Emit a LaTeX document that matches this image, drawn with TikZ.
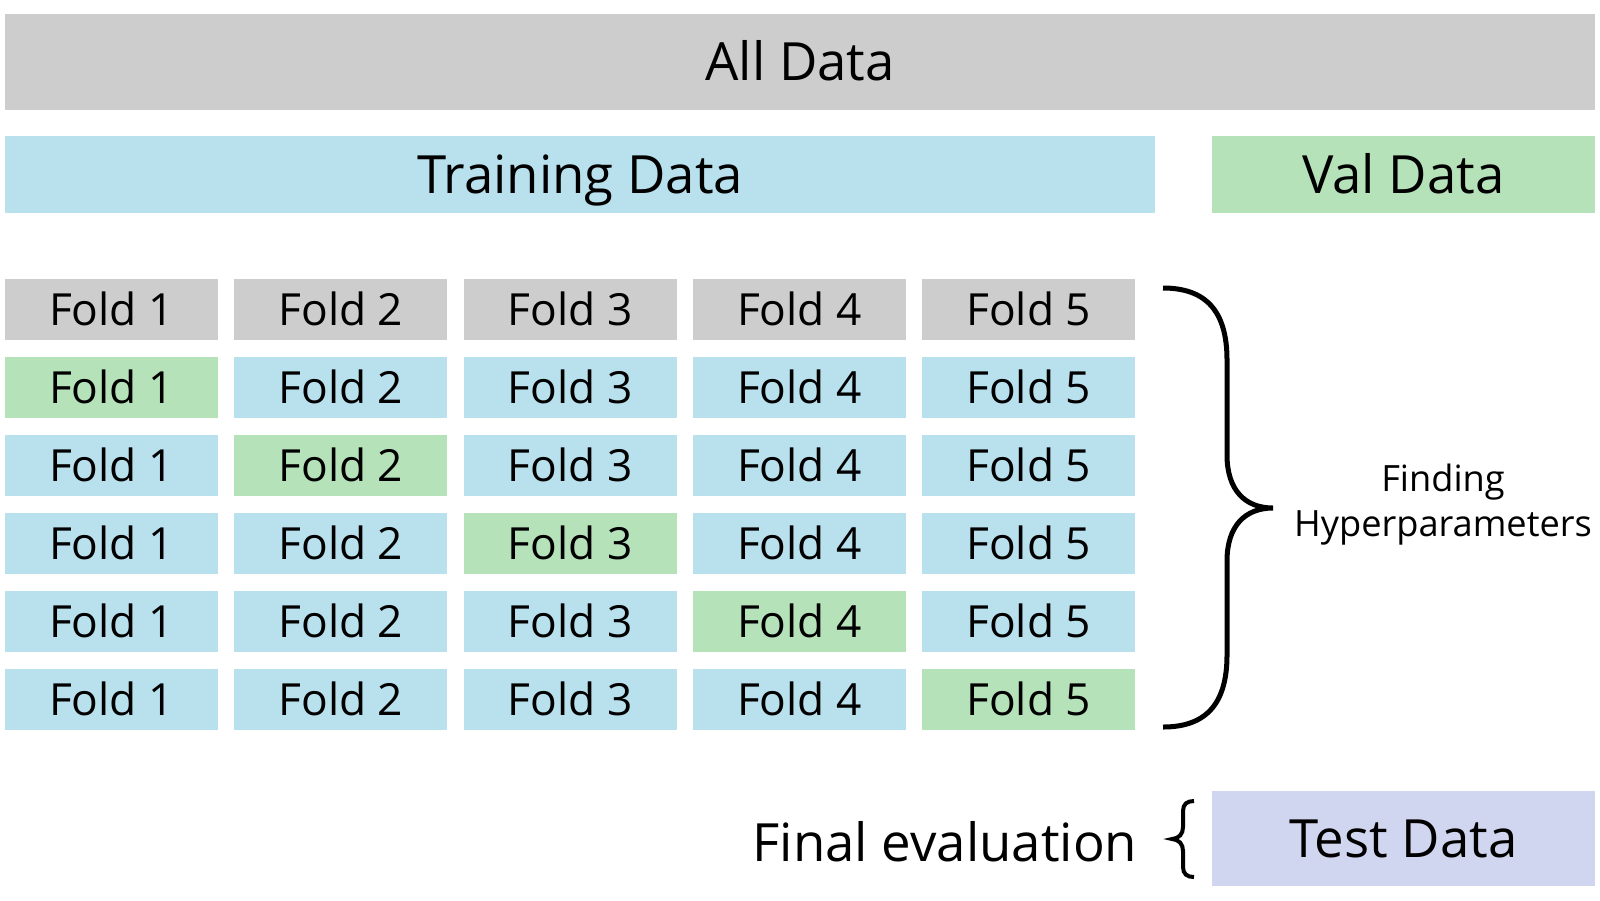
\documentclass[tikz,border=0pt]{standalone}
\usepackage{fontspec}
\setmainfont{Open Sans}
\definecolor{boxgray}{RGB}{205,205,205}
\definecolor{boxblue}{RGB}{184,225,237}
\definecolor{boxgreen}{RGB}{181,226,185}
\definecolor{boxlav}{RGB}{209,214,240}
\begin{document}
\begin{tikzpicture}
	[	bar/.style={rectangle,draw=none,inner sep=0pt,text height=10.7pt,text depth=0pt,font=\fontsize{15}{18}\selectfont},
	fold/.style={rectangle,draw=none,fill=boxblue,inner sep=0pt,minimum width=2.13cm,minimum height=.61cm,text height=9pt,text depth=0pt,font=\fontsize{12.6}{15}\selectfont},
	hold/.style={fold,fill=boxgreen},
	head/.style={fold,fill=boxgray},
	plain/.style={draw=none,fill=none,inner sep=0pt}
	]
	\useasboundingbox (0,0) rectangle (16,-9);

	\node[bar,fill=boxgray,minimum width=15.9cm,minimum height=.96cm] (all) at (8,-.62){All Data};
	\node[bar,fill=boxblue,minimum width=11.5cm,minimum height=.77cm] (train) at (5.8,-1.745){Training Data};
	\node[bar,fill=boxgreen,minimum width=3.83cm,minimum height=.77cm] (val) at (14.035,-1.745){Val Data};

	\node[head] (f01) at (1.115,-3.095){Fold 1};
	\node[head] (f02) at (3.408,-3.095){Fold 2};
	\node[head] (f03) at (5.701,-3.095){Fold 3};
	\node[head] (f04) at (7.994,-3.095){Fold 4};
	\node[head] (f05) at (10.287,-3.095){Fold 5};

	\node[hold] (f11) at (1.115,-3.875){Fold 1};
	\node[fold] (f12) at (3.408,-3.875){Fold 2};
	\node[fold] (f13) at (5.701,-3.875){Fold 3};
	\node[fold] (f14) at (7.994,-3.875){Fold 4};
	\node[fold] (f15) at (10.287,-3.875){Fold 5};

	\node[fold] (f21) at (1.115,-4.655){Fold 1};
	\node[hold] (f22) at (3.408,-4.655){Fold 2};
	\node[fold] (f23) at (5.701,-4.655){Fold 3};
	\node[fold] (f24) at (7.994,-4.655){Fold 4};
	\node[fold] (f25) at (10.287,-4.655){Fold 5};

	\node[fold] (f31) at (1.115,-5.435){Fold 1};
	\node[fold] (f32) at (3.408,-5.435){Fold 2};
	\node[hold] (f33) at (5.701,-5.435){Fold 3};
	\node[fold] (f34) at (7.994,-5.435){Fold 4};
	\node[fold] (f35) at (10.287,-5.435){Fold 5};

	\node[fold] (f41) at (1.115,-6.215){Fold 1};
	\node[fold] (f42) at (3.408,-6.215){Fold 2};
	\node[fold] (f43) at (5.701,-6.215){Fold 3};
	\node[hold] (f44) at (7.994,-6.215){Fold 4};
	\node[fold] (f45) at (10.287,-6.215){Fold 5};

	\node[fold] (f51) at (1.115,-6.995){Fold 1};
	\node[fold] (f52) at (3.408,-6.995){Fold 2};
	\node[fold] (f53) at (5.701,-6.995){Fold 3};
	\node[fold] (f54) at (7.994,-6.995){Fold 4};
	\node[hold] (f55) at (10.287,-6.995){Fold 5};

	% brace over the folds
	\draw[line width=.05cm] (11.63,-2.88) .. controls (12.05,-2.88) and (12.27,-3.1) .. (12.27,-3.6)
		-- (12.27,-4.55) .. controls (12.27,-4.9) and (12.45,-5.08) .. (12.73,-5.08)
		.. controls (12.45,-5.08) and (12.27,-5.26) .. (12.27,-5.61)
		-- (12.27,-6.55) .. controls (12.27,-7.05) and (12.05,-7.27) .. (11.63,-7.27);
	\node[plain,align=center,font=\fontsize{10.3}{12.8}\selectfont] (hyper) at (14.43,-5.05){Finding\\Hyperparameters};

	\node[bar,fill=boxlav,minimum width=3.83cm,minimum height=.95cm] (test) at (14.035,-8.385){Test Data};
	\draw[line width=.04cm] (11.94,-8.01) .. controls (11.87,-8.01) and (11.83,-8.04) .. (11.83,-8.11)
		-- (11.83,-8.27) .. controls (11.83,-8.34) and (11.79,-8.385) .. (11.72,-8.39)
		.. controls (11.79,-8.395) and (11.83,-8.44) .. (11.83,-8.51)
		-- (11.83,-8.67) .. controls (11.83,-8.74) and (11.87,-8.77) .. (11.94,-8.77);
	\node[plain,anchor=base east,font=\fontsize{15}{18}\selectfont] (final) at (11.38,-8.61){Final evaluation};
\end{tikzpicture}
\end{document}
